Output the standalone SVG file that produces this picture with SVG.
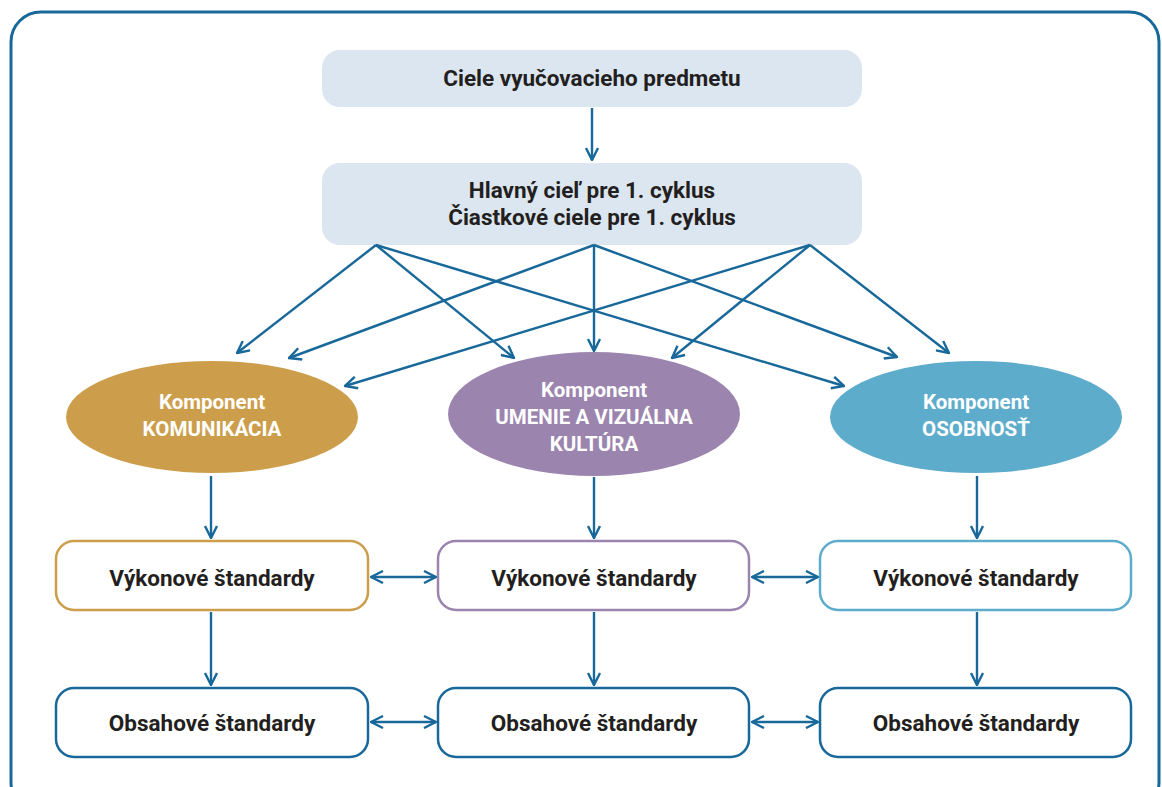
<svg xmlns="http://www.w3.org/2000/svg" width="1162" height="787" viewBox="0 0 1162 787">
<defs>
<marker id="ah" viewBox="0 0 14 14" refX="13" refY="7" markerWidth="14" markerHeight="14" markerUnits="userSpaceOnUse" orient="auto-start-reverse">
<path d="M1,1 L13,7 L1,13" fill="none" stroke="#18689a" stroke-width="2.4"/>
</marker>
<style>
.frame{fill:#fff;stroke:#18689a;stroke-width:3}
.top{fill:#dce6f0}
.c{stroke:#18689a;stroke-width:2.4;fill:none;marker-end:url(#ah)}
.d{stroke:#18689a;stroke-width:2.4;fill:none;marker-end:url(#ah);marker-start:url(#ah)}
.t{font-family:Roboto,"Liberation Sans",sans-serif;font-weight:700;font-size:22.5px;fill:#231f20;text-anchor:middle}
.w{font-family:Roboto,"Liberation Sans",sans-serif;font-weight:700;font-size:20.5px;fill:#fff;text-anchor:middle}
.box{fill:#fff;stroke-width:2.5}
</style>
</defs>
<rect class="frame" x="11" y="12" width="1148" height="800" rx="30"/>
<g id="ciele">
<rect class="top" x="322" y="50" width="540" height="57" rx="18"/>
<text class="t" x="592" y="86">Ciele vyučovacieho predmetu</text>
</g>
<g id="hlavny">
<rect class="top" x="322" y="163" width="540" height="82" rx="18"/>
<text class="t" x="592" y="198">Hlavný cieľ pre 1. cyklus</text>
<text class="t" x="592" y="225">Čiastkové ciele pre 1. cyklus</text>
</g>
<g id="komunikacia">
<ellipse cx="212" cy="417" rx="146" ry="56" fill="#cc9e4c"/>
<text class="w" x="212" y="409">Komponent</text>
<text class="w" x="212" y="436">KOMUNIKÁCIA</text>
</g>
<g id="umenie">
<ellipse cx="594" cy="414" rx="146" ry="62" fill="#9b84ae"/>
<text class="w" x="594" y="397">Komponent</text>
<text class="w" x="594" y="424">UMENIE A VIZUÁLNA</text>
<text class="w" x="594" y="451">KULTÚRA</text>
</g>
<g id="osobnost">
<ellipse cx="976" cy="417" rx="146" ry="56" fill="#5eaccb"/>
<text class="w" x="976" y="409">Komponent</text>
<text class="w" x="976" y="436">OSOBNOSŤ</text>
</g>
<g id="vykon1"><rect class="box" x="56" y="541" width="312" height="69" rx="18" stroke="#cc9e4c"/><text class="t" x="212" y="586">Výkonové štandardy</text></g>
<g id="vykon2"><rect class="box" x="438" y="541" width="311" height="69" rx="18" stroke="#9b84ae"/><text class="t" x="594" y="586">Výkonové štandardy</text></g>
<g id="vykon3"><rect class="box" x="820" y="541" width="311" height="69" rx="18" stroke="#5eaccb"/><text class="t" x="976" y="586">Výkonové štandardy</text></g>
<g id="obsah1"><rect class="box" x="56" y="688" width="312" height="69" rx="18" stroke="#18689a"/><text class="t" x="212" y="731">Obsahové štandardy</text></g>
<g id="obsah2"><rect class="box" x="438" y="688" width="311" height="69" rx="18" stroke="#18689a"/><text class="t" x="594" y="731">Obsahové štandardy</text></g>
<g id="obsah3"><rect class="box" x="820" y="688" width="311" height="69" rx="18" stroke="#18689a"/><text class="t" x="976" y="731">Obsahové štandardy</text></g>
<g id="connectors">
<line class="c" x1="592" y1="108" x2="592" y2="160"/>
<line class="c" x1="376" y1="245" x2="237" y2="353"/>
<line class="c" x1="376" y1="245" x2="514" y2="358"/>
<line class="c" x1="376" y1="245" x2="844" y2="386"/>
<line class="c" x1="594" y1="245" x2="289" y2="358"/>
<line class="c" x1="594" y1="245" x2="594" y2="351"/>
<line class="c" x1="594" y1="245" x2="897" y2="357"/>
<line class="c" x1="810" y1="245" x2="345" y2="386"/>
<line class="c" x1="810" y1="245" x2="672" y2="358"/>
<line class="c" x1="810" y1="245" x2="949" y2="353"/>
<line class="c" x1="211" y1="476" x2="211" y2="538"/>
<line class="c" x1="594" y1="477" x2="594" y2="538"/>
<line class="c" x1="977" y1="476" x2="977" y2="538"/>
<line class="c" x1="211" y1="612" x2="211" y2="685"/>
<line class="c" x1="594" y1="612" x2="594" y2="685"/>
<line class="c" x1="977" y1="612" x2="977" y2="685"/>
<line class="d" x1="371" y1="577" x2="436" y2="577"/>
<line class="d" x1="752" y1="577" x2="818" y2="577"/>
<line class="d" x1="371" y1="722" x2="436" y2="722"/>
<line class="d" x1="752" y1="722" x2="818" y2="722"/>
</g>
</svg>
